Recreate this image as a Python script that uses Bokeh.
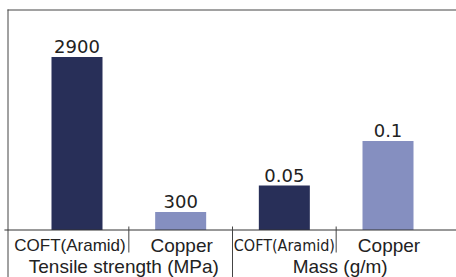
from bokeh.plotting import figure
from bokeh.models import Range1d
from bokeh.core.properties import value
from bokeh.embed import file_html
from bokeh.resources import INLINE

# ---- data ----
groups = ["Tensile strength (MPa)", "Mass (g/m)"]
materials = ["COFT(Aramid)", "Copper"]
tensile = [2900, 300]
mass = [0.05, 0.1]
tensile_labels = ["2900", "300"]
mass_labels = ["0.05", "0.1"]

DARK = "#282f58"
LIGHT = "#858fc0"
colors = [DARK, LIGHT]
TXT = "#222222"
LINE = "#444444"

p = figure(width=456, height=277, output_backend="svg", toolbar_location=None,
           x_range=Range1d(-0.7379, 3.6607), y_range=Range1d(-796, 3847),
           min_border=0, outline_line_color=None)
p.axis.visible = False
p.grid.visible = False
p.background_fill_color = "white"
p.extra_y_ranges = {"mass": Range1d(-0.05337, 0.25787), "px": Range1d(277, 0)}
p.extra_x_ranges = {"px": Range1d(0, 456)}

# bars
tx = [i for i in range(len(tensile))]
mx = [len(tensile) + i for i in range(len(mass))]
p.vbar(x=tx, top=tensile, bottom=0, width=0.492, fill_color=colors, line_color=None)
p.vbar(x=mx, top=mass, bottom=0, width=0.492, fill_color=colors, line_color=None,
       y_range_name="mass")

# value labels
p.text(x=tx, y=tensile, text=tensile_labels, text_align="center", text_baseline="middle",
       y_offset=-10.5, text_font=value("DejaVu Sans"), text_font_size="18px", text_color=TXT)
p.text(x=mx, y=mass, text=mass_labels, text_align="center", text_baseline="middle",
       y_offset=-10.5, text_font=value("DejaVu Sans"), text_font_size="18px", text_color=TXT,
       y_range_name="mass")

# frame lines
p.segment(x0=[7, 7.5], y0=[9.5, 9], x1=[456, 7.5], y1=[9.5, 277], line_color=LINE,
          line_width=1, x_range_name="px", y_range_name="px")
p.segment(x0=[-0.7], y0=[229.5], x1=[3.7], y1=[229.5], line_color="#333333",
          line_width=1, y_range_name="px")
# separators between categories / groups
seps = [0.5, 1.5, 2.5]
sep_bottom = [252, 277, 252]
p.segment(x0=seps, y0=[226] * 3, x1=seps, y1=sep_bottom, line_color=LINE,
          line_width=1, y_range_name="px")

# category labels
all_x = tx + mx
p.text(x=[all_x[0]], y=[244.5], text=[materials[0]], x_offset=-7, text_align="center",
       text_baseline="middle", text_font=value("Liberation Sans"), text_font_size="17px",
       text_color=TXT, y_range_name="px")
p.text(x=[all_x[2]], y=[244.5], text=[materials[0]], x_offset=0, text_align="center",
       text_baseline="middle", text_font=value("DejaVu Sans Condensed"), text_font_size="16px",
       text_color=TXT, y_range_name="px")
p.text(x=[all_x[1], all_x[3]], y=[244.5, 244.5], text=[materials[1], materials[1]], x_offset=1,
       text_align="center", text_baseline="middle", text_font=value("Liberation Sans"),
       text_font_size="19px", text_color=TXT, y_range_name="px")

# group labels
gx = [sum(tx) / len(tx), sum(mx) / len(mx)]
p.text(x=[gx[0]], y=[265.5], text=[groups[0]], x_offset=-5, text_align="center",
       text_baseline="middle", text_font=value("Liberation Sans"), text_font_size="19px",
       text_color=TXT, y_range_name="px")
p.text(x=[gx[1]], y=[265.5], text=[groups[1]], x_offset=4, text_align="center",
       text_baseline="middle", text_font=value("Liberation Sans"), text_font_size="19px",
       text_color=TXT, y_range_name="px")

open("out.html", "w").write(file_html(p, INLINE))
